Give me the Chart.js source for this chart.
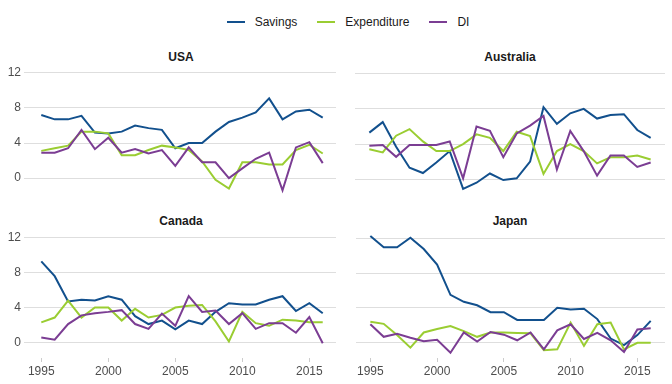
<!DOCTYPE html>
<html>
<head>
<meta charset="utf-8">
<script src="https://cdn.jsdelivr.net/npm/chart.js@4"></script>
<style>
    body { margin: 0; background: #fff; font-family: "Liberation Sans", Arial, sans-serif; }
    #wrap { position: relative; width: 672px; height: 384px; overflow: hidden; }
    canvas { position: absolute; }
    .title { position: absolute; font-weight: bold; font-size: 12px; color: #1a1a1a; text-align: center; width: 200px; }
    #legend { position: absolute; top: 15px; left: 12px; width: 672px; display: flex; justify-content: center; font-size: 12px; color: #1a1a1a; }
    .item { display: flex; align-items: center; margin: 0 10px; }
    .swatch { width: 18px; height: 2px; margin-right: 10px; }
</style>
</head>
<body>
<div id="wrap">
    <div id="legend"></div>
    <div class="title" style="left:81px; top:50px;">USA</div>
    <div class="title" style="left:410px; top:50px;">Australia</div>
    <div class="title" style="left:81px; top:214px;">Canada</div>
    <div class="title" style="left:410px; top:214px;">Japan</div>
    <canvas id="usa"></canvas>
    <canvas id="australia"></canvas>
    <canvas id="canada"></canvas>
    <canvas id="japan"></canvas>
</div>
<script>
const years = [1995, 1996, 1997, 1998, 1999, 2000, 2001, 2002, 2003, 2004, 2005,
               2006, 2007, 2008, 2009, 2010, 2011, 2012, 2013, 2014, 2015, 2016];
const xTicks = [1995, 2000, 2005, 2010, 2015];
const yTicks = [0, 4, 8, 12];
const seriesNames = ['Savings', 'Expenditure', 'DI'];
const seriesColors = ['#12508d', '#9acd32', '#7b3d93'];

const usaSavings = [7.2, 6.7, 6.7, 7.1, 5.2, 5.1, 5.3, 6.0, 5.7, 5.5, 3.4, 4.0, 4.0, 5.3, 6.4, 6.9, 7.5, 9.1, 6.7, 7.6, 7.8, 6.9];
const usaExpenditure = [3.1, 3.4, 3.7, 5.3, 5.3, 5.1, 2.6, 2.6, 3.2, 3.7, 3.5, 3.2, 1.9, -0.2, -1.2, 1.8, 1.8, 1.55, 1.55, 3.2, 3.8, 2.8];
const usaDI = [2.9, 2.9, 3.4, 5.5, 3.3, 4.6, 2.9, 3.3, 2.8, 3.2, 1.4, 3.5, 1.8, 1.8, 0.0, 1.1, 2.2, 2.9, -1.4, 3.5, 4.1, 1.7];

const ausSavings = [5.3, 6.5, 3.7, 1.3, 0.7, 1.9, 3.2, -1.1, -0.4, 0.65, -0.1, 0.1, 2.0, 8.2, 6.3, 7.5, 8.0, 6.9, 7.3, 7.4, 5.6, 4.7];
const ausExpenditure = [3.4, 3.05, 4.95, 5.7, 4.3, 3.2, 3.2, 4.0, 5.1, 4.7, 3.2, 5.4, 4.9, 0.6, 3.2, 4.0, 3.2, 1.8, 2.5, 2.5, 2.7, 2.25];
const ausDI = [3.8, 3.9, 2.55, 3.9, 3.9, 3.9, 4.3, 0.1, 6.0, 5.5, 2.5, 5.2, 6.1, 7.2, 1.1, 5.5, 3.2, 0.4, 2.7, 2.7, 1.4, 1.9];

const canSavings = [9.3, 7.6, 4.7, 4.9, 4.8, 5.3, 4.9, 3.0, 2.1, 2.5, 1.5, 2.5, 2.1, 3.5, 4.5, 4.35, 4.35, 4.9, 5.3, 3.6, 4.5, 3.35];
const canExpenditure = [2.3, 2.85, 4.8, 2.85, 4.0, 4.0, 2.5, 3.85, 2.85, 3.15, 4.0, 4.2, 4.3, 2.4, 0.1, 3.5, 2.2, 1.9, 2.6, 2.5, 2.3, 2.3];
const canDI = [0.55, 0.3, 2.1, 3.1, 3.35, 3.5, 3.7, 2.1, 1.55, 3.3, 1.9, 5.3, 3.5, 3.65, 2.1, 3.35, 1.55, 2.2, 2.2, 1.1, 2.9, -0.1];

const jpnSavings = [12.3, 11.0, 11.0, 12.1, 10.8, 9.0, 5.5, 4.7, 4.3, 3.5, 3.5, 2.6, 2.6, 2.6, 4.0, 3.8, 3.9, 2.7, 0.45, -0.3, 0.85, 2.5];
const jpnExpenditure = [2.4, 2.15, 0.85, -0.6, 1.15, 1.55, 1.9, 1.3, 0.65, 1.15, 1.15, 1.1, 1.05, -0.9, -0.8, 2.3, -0.4, 2.1, 2.3, -0.8, -0.05, -0.05];
const jpnDI = [2.1, 0.65, 1.0, 0.55, 0.15, 0.3, -1.2, 1.15, 0.1, 1.2, 0.9, 0.25, 1.15, -0.8, 1.4, 2.1, 0.4, 1.1, 0.25, -1.1, 1.5, 1.65];

// legend
const legend = document.getElementById('legend');
seriesNames.forEach((name, i) => {
    const item = document.createElement('div');
    item.className = 'item';
    item.innerHTML = `<span class="swatch" style="background:${seriesColors[i]}"></span><span>${name}</span>`;
    legend.appendChild(item);
});

function chartConfig(xRange, values, showY, showX) {
    const datasets = values.map((vals, i) => ({
        label: seriesNames[i],
        data: years.map((y, j) => ({ x: y, y: vals[j] })),
        borderColor: seriesColors[i],
        borderWidth: 2,
        pointRadius: 0,
        tension: 0,
        fill: false,
        order: 3 - i
    }));
    return {
        type: 'line',
        data: { datasets: datasets },
        options: {
            responsive: false,
            maintainAspectRatio: false,
            animation: false,
            events: [],
            layout: { padding: 0, autoPadding: false },
            plugins: { legend: { display: false }, tooltip: { enabled: false } },
            scales: {
                x: {
                    type: 'linear',
                    display: showX,
                    min: xRange[0],
                    max: xRange[1],
                    afterBuildTicks: s => { s.ticks = xTicks.map(v => ({ value: v })); },
                    afterFit: s => { s.height = showX ? 24 : 0; },
                    border: { display: false },
                    grid: { drawOnChartArea: false, drawTicks: true, tickLength: 4, color: '#cccccc' },
                    ticks: {
                        callback: v => String(v),
                        color: '#4d4d4d',
                        font: { family: 'Liberation Sans', size: 12 },
                        padding: 2,
                        maxRotation: 0
                    }
                },
                y: {
                    min: -1.8,
                    max: 13,
                    afterBuildTicks: s => { s.ticks = yTicks.map(v => ({ value: v })); },
                    afterFit: s => { s.width = showY ? 24 : 0; },
                    border: { display: false },
                    grid: { color: '#dedede', lineWidth: 1, drawTicks: false },
                    ticks: {
                        display: showY,
                        color: '#4d4d4d',
                        font: { family: 'Liberation Sans', size: 12 },
                        padding: 3
                    }
                }
            }
        }
    };
}

// area = where the plot region should land on the page
function makePanel(id, area, xRange, values, showY, showX) {
    const el = document.getElementById(id);
    const areaW = area.right - area.left;
    const areaH = area.bottom - area.top;

    // first pass: measure what the layout takes around the plot region
    el.width = areaW + 60;
    el.height = areaH + 60;
    let chart = new Chart(el, chartConfig(xRange, values, showY, showX));
    const ca = chart.chartArea;
    const padLeft = ca.left, padTop = ca.top;
    const padRight = el.width - ca.right, padBottom = el.height - ca.bottom;
    chart.destroy();

    // second pass: exact size
    el.width = Math.round(areaW + padLeft + padRight);
    el.height = Math.round(areaH + padTop + padBottom);
    el.style.left = (area.left - padLeft) + 'px';
    el.style.top = (area.top - padTop) + 'px';
    new Chart(el, chartConfig(xRange, values, showY, showX));
}

makePanel('usa', { left: 24, right: 336, top: 64.5, bottom: 194 }, [1993.71, 2016.99],
          [usaSavings, usaExpenditure, usaDI], true, false);
makePanel('australia', { left: 355, right: 665, top: 64.5, bottom: 194 }, [1993.93, 2017.07],
          [ausSavings, ausExpenditure, ausDI], false, false);
makePanel('canada', { left: 24, right: 336, top: 229.6, bottom: 358 }, [1993.71, 2016.99],
          [canSavings, canExpenditure, canDI], true, true);
makePanel('japan', { left: 355, right: 665, top: 229.6, bottom: 358 }, [1993.93, 2017.07],
          [jpnSavings, jpnExpenditure, jpnDI], false, true);
</script>
</body>
</html>
